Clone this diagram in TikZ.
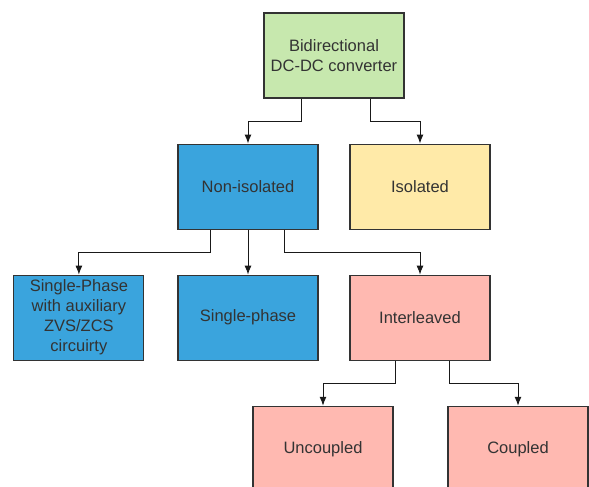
\documentclass[tikz,border=0pt]{standalone}
\usepackage{fontspec}
\setmainfont{Liberation Sans}
\usepackage{tikz}
\usetikzlibrary{arrows.meta,positioning}
\definecolor{convgreen}{RGB}{199,232,174}
\definecolor{nonisoblue}{RGB}{58,164,221}
\definecolor{isoyellow}{RGB}{255,234,168}
\definecolor{interpink}{RGB}{255,185,177}
\definecolor{textgray}{RGB}{51,51,51}

\begin{document}
\begin{tikzpicture}[
    x=1pt, y=1pt,
    node distance=45pt,
    >={Latex[length=9pt,width=7pt]},
    font=\fontsize{16.5}{20}\selectfont,
    block/.style={
		rectangle,
		draw=black!80,
		line width=1.1pt,
		text=textgray,
		text centered,
		align=center,
		inner sep=0pt,
		minimum width=140pt,
		minimum height=85pt
	},
	link/.style={
		draw=black!90,
		line width=1pt,
		->
	}
  ]
  \clip (0,0) rectangle (589,-487);
    % We start by placing the blocks

  \node [block, fill=convgreen] at (334,-55.5) (conv)
  {Bidirectional\\DC-DC converter};

  \node [block, fill=nonisoblue, below=of conv, xshift=-86pt] (noniso) {Non-isolated};
  \node [block, fill=isoyellow, below=of conv, xshift=86pt] (iso) {Isolated};

  \node [block, fill=nonisoblue, below=of noniso] (single) {Single-phase};
  \node [block, fill=nonisoblue, left=33pt of single, minimum width=130pt] (auxzvs)
  {Single-Phase\\with auxiliary\\ZVS/ZCS\\circuirty};
  \node [block, fill=interpink, below=of iso] (inter) {Interleaved};

  \node [block, fill=interpink, below=of inter, xshift=-97pt] (uncoup) {Uncoupled};
  \node [block, fill=interpink, below=of inter, xshift=98pt] (coup) {Coupled};

  % then the connectors
  \draw [link] ([xshift=-33pt]conv.south) -- ++(0,-22.5) -| (noniso.north);
  \draw [link] ([xshift=36pt]conv.south) -- ++(0,-22.5) -| (iso.north);

  \draw [link] ([xshift=-38pt]noniso.south) -- ++(0,-22.5) -| (auxzvs.north);
  \draw [link] (noniso.south) -- (single.north);
  \draw [link] ([xshift=36pt]noniso.south) -- ++(0,-22.5) -| (inter.north);

  \draw [link] ([xshift=-25pt]inter.south) -- ++(0,-22.5) -| (uncoup.north);
  \draw [link] ([xshift=29pt]inter.south) -- ++(0,-22.5) -| (coup.north);

\end{tikzpicture}
\end{document}
